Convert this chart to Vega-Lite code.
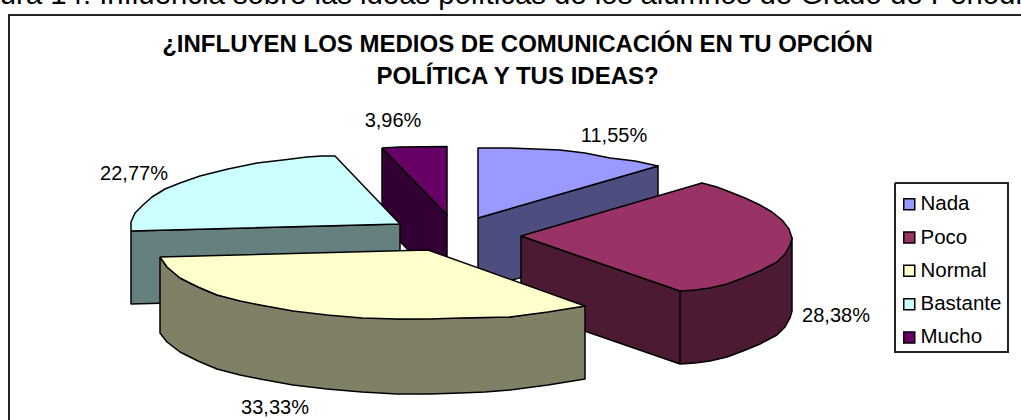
{
  "$schema": "https://vega.github.io/schema/vega-lite/v6.json",
  "width": 1021,
  "height": 420,
  "padding": 0,
  "autosize": {"type": "none"},
  "background": "white",
  "title": {
    "text": ["¿INFLUYEN LOS MEDIOS DE COMUNICACIÓN EN TU OPCIÓN", "POLÍTICA Y TUS IDEAS?"],
    "font": "Liberation Sans",
    "fontSize": 24,
    "fontWeight": "bold",
    "color": "#000000",
    "lineHeight": 32,
    "anchor": "middle",
    "frame": "group",
    "baseline": "top",
    "offset": 0,
    "dx": 7,
    "dy": 108
  },
  "config": {
    "view": {"stroke": null},
    "font": "Liberation Sans"
  },
  "datasets": {
    "outline": [
      {"piece":"Mucho lateral","n":0,"x":-78,"y":92},{"piece":"Mucho lateral","n":1,"x":-13,"y":25},{"piece":"Mucho lateral","n":2,"x":-13,"y":-50},{"piece":"Mucho lateral","n":3,"x":-78,"y":17},{"piece":"Mucho lateral","n":4,"x":-78,"y":92},
      {"piece":"Mucho","n":0,"x":-78,"y":92},{"piece":"Mucho","n":1,"x":-60,"y":93},{"piece":"Mucho","n":2,"x":-13,"y":93.5},{"piece":"Mucho","n":3,"x":-13,"y":25},{"piece":"Mucho","n":4,"x":-78,"y":92},
      {"piece":"Bastante lateral","n":0,"x":-329,"y":9},{"piece":"Bastante lateral","n":1,"x":-60,"y":16},{"piece":"Bastante lateral","n":2,"x":-60,"y":-57},{"piece":"Bastante lateral","n":3,"x":-329,"y":-64},{"piece":"Bastante lateral","n":4,"x":-329,"y":9},
      {"piece":"Bastante","n":0,"x":-329,"y":9},{"piece":"Bastante","n":1,"x":-329,"y":18},{"piece":"Bastante","n":2,"x":-325,"y":27},{"piece":"Bastante","n":3,"x":-317,"y":35},{"piece":"Bastante","n":4,"x":-308,"y":43},{"piece":"Bastante","n":5,"x":-295,"y":51},{"piece":"Bastante","n":6,"x":-280,"y":57},{"piece":"Bastante","n":7,"x":-260,"y":64},{"piece":"Bastante","n":8,"x":-232,"y":71},{"piece":"Bastante","n":9,"x":-203,"y":77},{"piece":"Bastante","n":10,"x":-177,"y":80},{"piece":"Bastante","n":11,"x":-153,"y":83},{"piece":"Bastante","n":12,"x":-138,"y":84},{"piece":"Bastante","n":13,"x":-125,"y":84},{"piece":"Bastante","n":14,"x":-60,"y":16},{"piece":"Bastante","n":15,"x":-329,"y":9},
      {"piece":"Nada lateral","n":0,"x":18,"y":22},{"piece":"Nada lateral","n":1,"x":198,"y":74},{"piece":"Nada lateral","n":2,"x":198,"y":2},{"piece":"Nada lateral","n":3,"x":18,"y":-50},{"piece":"Nada lateral","n":4,"x":18,"y":22},
      {"piece":"Nada","n":0,"x":18,"y":22},{"piece":"Nada","n":1,"x":18,"y":92},{"piece":"Nada","n":2,"x":50,"y":92},{"piece":"Nada","n":3,"x":75,"y":91},{"piece":"Nada","n":4,"x":100,"y":90},{"piece":"Nada","n":5,"x":125,"y":87},{"piece":"Nada","n":6,"x":150,"y":82},{"piece":"Nada","n":7,"x":175,"y":79},{"piece":"Nada","n":8,"x":198,"y":74},{"piece":"Nada","n":9,"x":18,"y":22},
      {"piece":"Poco lateral","n":0,"x":61,"y":-69},{"piece":"Poco lateral","n":1,"x":61,"y":4},{"piece":"Poco lateral","n":2,"x":220,"y":-51},{"piece":"Poco lateral","n":3,"x":220,"y":-124},{"piece":"Poco lateral","n":4,"x":235,"y":-123},{"piece":"Poco lateral","n":5,"x":250,"y":-121},{"piece":"Poco lateral","n":6,"x":267,"y":-117},{"piece":"Poco lateral","n":7,"x":283,"y":-111},{"piece":"Poco lateral","n":8,"x":300,"y":-104},{"piece":"Poco lateral","n":9,"x":317,"y":-95},{"piece":"Poco lateral","n":10,"x":325,"y":-87},{"piece":"Poco lateral","n":11,"x":330,"y":-78},{"piece":"Poco lateral","n":12,"x":332,"y":-71},{"piece":"Poco lateral","n":13,"x":332,"y":2},{"piece":"Poco lateral","n":14,"x":330,"y":-5},{"piece":"Poco lateral","n":15,"x":300,"y":-31},{"piece":"Poco lateral","n":16,"x":220,"y":-51},{"piece":"Poco lateral","n":17,"x":220,"y":-124},{"piece":"Poco lateral","n":18,"x":61,"y":-69},
      {"piece":"Poco","n":0,"x":61,"y":4},{"piece":"Poco","n":1,"x":242,"y":57},{"piece":"Poco","n":2,"x":257,"y":53},{"piece":"Poco","n":3,"x":270,"y":48},{"piece":"Poco","n":4,"x":285,"y":42},{"piece":"Poco","n":5,"x":300,"y":35},{"piece":"Poco","n":6,"x":312,"y":28},{"piece":"Poco","n":7,"x":322,"y":20},{"piece":"Poco","n":8,"x":329,"y":11},{"piece":"Poco","n":9,"x":332,"y":2},{"piece":"Poco","n":10,"x":330,"y":-5},{"piece":"Poco","n":11,"x":325,"y":-14},{"piece":"Poco","n":12,"x":317,"y":-22},{"piece":"Poco","n":13,"x":300,"y":-31},{"piece":"Poco","n":14,"x":283,"y":-38},{"piece":"Poco","n":15,"x":267,"y":-44},{"piece":"Poco","n":16,"x":250,"y":-48},{"piece":"Poco","n":17,"x":235,"y":-50},{"piece":"Poco","n":18,"x":220,"y":-51},{"piece":"Poco","n":19,"x":61,"y":4},
      {"piece":"Normal lateral","n":0,"x":-300,"y":-17},{"piece":"Normal lateral","n":1,"x":-293,"y":-27},{"piece":"Normal lateral","n":2,"x":-280,"y":-38},{"piece":"Normal lateral","n":3,"x":-262,"y":-47},{"piece":"Normal lateral","n":4,"x":-243,"y":-55},{"piece":"Normal lateral","n":5,"x":-200,"y":-65},{"piece":"Normal lateral","n":6,"x":-63,"y":-79},{"piece":"Normal lateral","n":7,"x":50,"y":-77},{"piece":"Normal lateral","n":8,"x":125,"y":-66},{"piece":"Normal lateral","n":9,"x":125,"y":-139},{"piece":"Normal lateral","n":10,"x":88,"y":-145},{"piece":"Normal lateral","n":11,"x":50,"y":-150},{"piece":"Normal lateral","n":12,"x":25,"y":-152},{"piece":"Normal lateral","n":13,"x":0,"y":-153},{"piece":"Normal lateral","n":14,"x":-30,"y":-154},{"piece":"Normal lateral","n":15,"x":-63,"y":-154},{"piece":"Normal lateral","n":16,"x":-98,"y":-152},{"piece":"Normal lateral","n":17,"x":-133,"y":-149},{"piece":"Normal lateral","n":18,"x":-167,"y":-145},{"piece":"Normal lateral","n":19,"x":-200,"y":-139},{"piece":"Normal lateral","n":20,"x":-220,"y":-135},{"piece":"Normal lateral","n":21,"x":-243,"y":-129},{"piece":"Normal lateral","n":22,"x":-262,"y":-121},{"piece":"Normal lateral","n":23,"x":-280,"y":-112},{"piece":"Normal lateral","n":24,"x":-293,"y":-102},{"piece":"Normal lateral","n":25,"x":-300,"y":-93},{"piece":"Normal lateral","n":26,"x":-300,"y":-17},
      {"piece":"Normal","n":0,"x":-300,"y":-17},{"piece":"Normal","n":1,"x":-293,"y":-27},{"piece":"Normal","n":2,"x":-280,"y":-38},{"piece":"Normal","n":3,"x":-262,"y":-47},{"piece":"Normal","n":4,"x":-243,"y":-55},{"piece":"Normal","n":5,"x":-220,"y":-61},{"piece":"Normal","n":6,"x":-200,"y":-65},{"piece":"Normal","n":7,"x":-167,"y":-71},{"piece":"Normal","n":8,"x":-133,"y":-75},{"piece":"Normal","n":9,"x":-98,"y":-78},{"piece":"Normal","n":10,"x":-63,"y":-79},{"piece":"Normal","n":11,"x":-30,"y":-79},{"piece":"Normal","n":12,"x":0,"y":-78},{"piece":"Normal","n":13,"x":25,"y":-77.5},{"piece":"Normal","n":14,"x":50,"y":-77},{"piece":"Normal","n":15,"x":88,"y":-72},{"piece":"Normal","n":16,"x":125,"y":-66},{"piece":"Normal","n":17,"x":-32,"y":-10},{"piece":"Normal","n":18,"x":-300,"y":-17}
    ],
    "frame": [
      {"part":"marco","n":0,"x":561,"y":225},{"part":"marco","n":1,"x":-451,"y":225},{"part":"marco","n":2,"x":-451,"y":-180},
      {"part":"leyenda","n":0,"x":435,"y":57},{"part":"leyenda","n":1,"x":548,"y":57},{"part":"leyenda","n":2,"x":548,"y":-112},{"part":"leyenda","n":3,"x":435,"y":-112},{"part":"leyenda","n":4,"x":435,"y":57}
    ],
    "shares": [
      {"slice":"Nada","share":"11,55%","x":154,"y":104},
      {"slice":"Poco","share":"28,38%","x":376,"y":-76},
      {"slice":"Normal","share":"33,33%","x":-185,"y":-168},
      {"slice":"Bastante","share":"22,77%","x":-326,"y":66},
      {"slice":"Mucho","share":"3,96%","x":-67,"y":119}
    ],
    "caption": [
      {"text":"Figura 14: Influencia sobre las ideas políticas de los alumnos de Grado de Periodismo","x":-501,"y":236.5}
    ]
  },
  "encoding": {
    "x": {"field":"x","type":"quantitative","axis":null,"scale":{"domain":[-460,561]}},
    "y": {"field":"y","type":"quantitative","axis":null,"scale":{"domain":[-180,240]}}
  },
  "layer": [
    {
      "data": {"name":"frame"},
      "mark": {"type":"line","stroke":"#222222","strokeWidth":2,"strokeJoin":"miter"},
      "encoding": {
        "order":{"field":"n","type":"quantitative"},
        "detail":{"field":"part","type":"nominal"}
      }
    },
    {
      "data": {"name":"outline"},
      "mark": {"type":"line","stroke":"#000000","strokeWidth":1.5,"strokeJoin":"round"},
      "encoding": {
        "order": {"field":"n","type":"quantitative"},
        "fill": {
          "field":"piece",
          "type":"nominal",
          "sort":null,
          "scale":{
            "domain":["Nada","Poco","Normal","Bastante","Mucho","Nada lateral","Poco lateral","Normal lateral","Bastante lateral","Mucho lateral"],
            "range":["#9999FF","#993366","#FFFFCC","#CCFFFF","#660066","#4D4D80","#4D1A33","#808066","#668080","#330033"]
          },
          "legend":{
            "values":["Nada","Poco","Normal","Bastante","Mucho"],
            "title":null,
            "orient":"none",
            "legendX":899,
            "legendY":194,
            "padding":0,
            "symbolType":"square",
            "symbolSize":121,
            "symbolStrokeColor":"#000000",
            "symbolStrokeWidth":1.5,
            "labelFont":"Liberation Sans",
            "labelFontSize":20.5,
            "labelColor":"#000000",
            "labelOffset":1,
            "rowPadding":12.3,
            "labelLimit":200
          }
        }
      }
    },
    {
      "data": {"name":"shares"},
      "mark": {"type":"text","font":"Liberation Sans","fontSize":20,"color":"#000000","align":"center","baseline":"middle"},
      "encoding": {"text":{"field":"share","type":"nominal"}}
    },
    {
      "data": {"name":"caption"},
      "mark": {"type":"text","font":"Liberation Sans","fontSize":29.33,"color":"#000000","align":"left","baseline":"alphabetic"},
      "encoding": {"text":{"field":"text","type":"nominal"}}
    }
  ]
}
